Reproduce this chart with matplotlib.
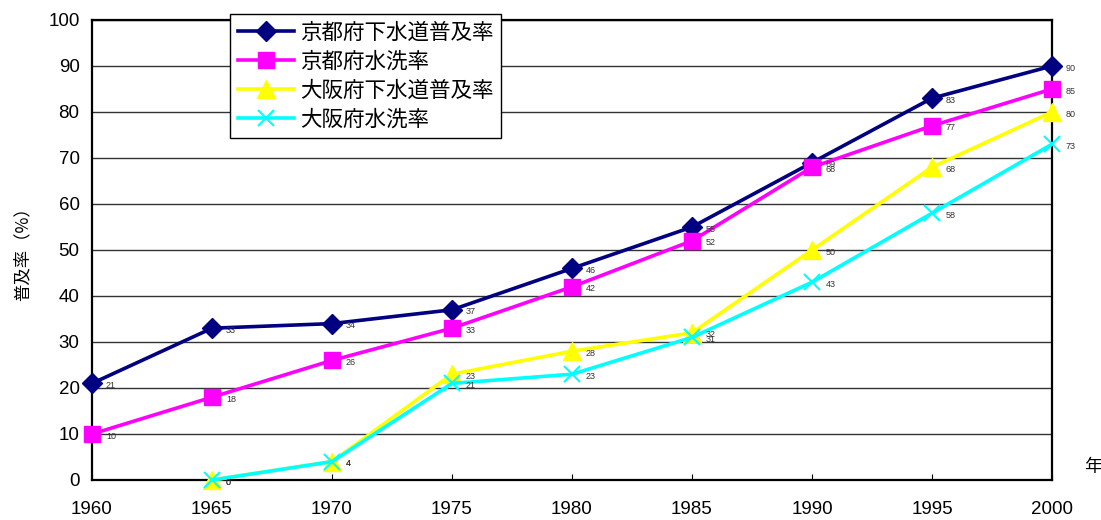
import matplotlib
matplotlib.use("Agg")
import matplotlib.pyplot as plt
import numpy as np

years = [1960, 1965, 1970, 1975, 1980, 1985, 1990, 1995, 2000]
kyoto_sewer = [21, 33, 34, 37, 46, 55, 69, 83, 90]
kyoto_flush = [10, 18, 26, 33, 42, 52, 68, 77, 85]
osaka_sewer = [np.nan, 0, 4, 23, 28, 32, 50, 68, 80]
osaka_flush = [np.nan, 0, 4, 21, 23, 31, 43, 58, 73]
series_names = ["京都府下水道普及率", "京都府水洗率", "大阪府下水道普及率", "大阪府水洗率"]
y_ticks = list(range(0, 101, 10))
x_ticks = years

plt.rcParams['font.family'] = ['Liberation Sans', 'Noto Sans CJK JP', 'DejaVu Sans']

fig = plt.figure(figsize=(11.01, 5.2), dpi=100)
ax = fig.add_axes([92/1101, 1-480/520, (1052-92)/1101, 460/520])

styles = [
    dict(color="#000080", marker="D", ms=10),
    dict(color="#FF00FF", marker="s", ms=11.5),
    dict(color="#FFFF00", marker="^", ms=13),
    dict(color="#00FFFF", marker="x", ms=12, mew=1.5),
]
all_series = [kyoto_sewer, kyoto_flush, osaka_sewer, osaka_flush]
for vals, name, st in zip(all_series, series_names, styles):
    ax.plot(years, vals, lw=2.6, label=name, clip_on=False, zorder=3, **st)
    for x, v in zip(years, vals):
        if not np.isnan(v):
            ax.annotate(f"{v:g}", (x, v), xytext=(10, -1.5), textcoords="offset points",
                        fontsize=6.5, color="#333333", va="center", ha="left",
                        annotation_clip=False, zorder=4)

ax.set_xlim(1960, 2000)
ax.set_ylim(0, 100)
ax.set_xticks(x_ticks)
ax.set_yticks(y_ticks)
ax.tick_params(axis='both', labelsize=13.5, length=4, direction='in')
ax.tick_params(axis='x', pad=15)
ax.tick_params(axis='y', length=0, pad=9)
ax.grid(axis='y', color='#333333', lw=1.0)
for s in ax.spines.values():
    s.set_linewidth(1.6)
    s.set_color('black')
ax.set_axisbelow(True)

ax.set_ylabel("普及率（%）", fontsize=12.5, family=['Noto Sans CJK JP', 'DejaVu Sans'], labelpad=12)
fig.text(1093/1101, 1-467/520, "年", fontsize=13, family=['Noto Sans CJK JP'], ha='center', va='center')

leg = ax.legend(loc='upper left', bbox_to_anchor=((230-92)/960, (480-14)/460),
                prop={'family': ['Noto Sans CJK JP'], 'size': 15.5},
                frameon=True, fancybox=False, edgecolor='black', framealpha=1,
                borderpad=0.35, labelspacing=0.33, handlelength=2.6, handletextpad=0.3,
                borderaxespad=0)
leg.get_frame().set_linewidth(1.0)
leg.set_zorder(5)

fig.savefig("out.png", dpi=100)
